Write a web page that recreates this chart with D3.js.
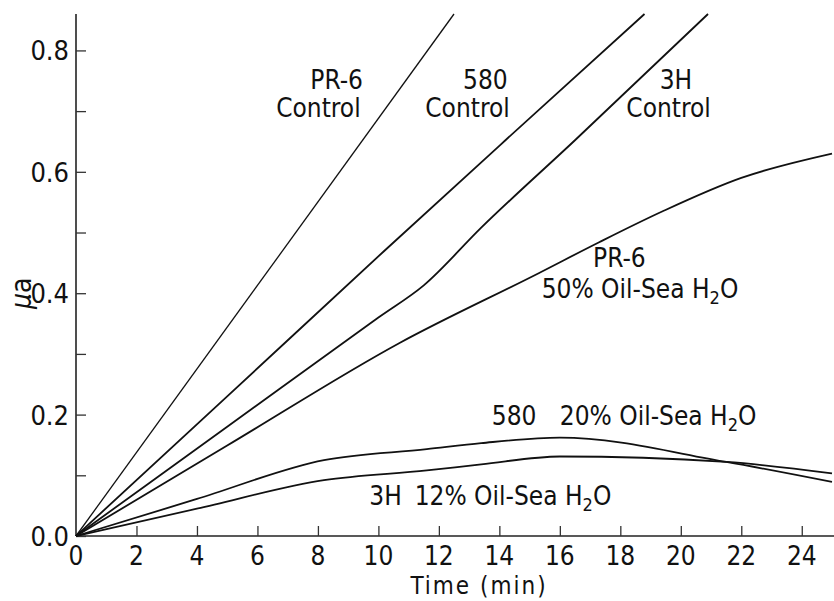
<!DOCTYPE html>
<html>
<head>
<meta charset="utf-8">
<script src="https://cdn.jsdelivr.net/npm/d3@7/dist/d3.min.js"></script>
<style>
  body { margin: 0; background: #fff; }
  svg text { font-family: "DejaVu Sans Condensed", "Liberation Sans Narrow", "Liberation Sans", sans-serif; fill: #111; }
</style>
</head>
<body>
<svg width="834" height="601"></svg>
<script>
// series: [time (min), current (µa)]
var pr6Control = [[0, 0], [12.5, 0.86]];
var c580Control = [[0, 0], [5, 0.23], [10.2, 0.47], [14.2, 0.652], [18.8, 0.86]];
var h3Control = [[0, 0], [5, 0.18], [10, 0.36], [11.5, 0.413], [13.4, 0.508], [16.5, 0.652], [20.9, 0.86]];
var pr6Oil50 = [[0, 0], [5, 0.149], [10.7, 0.318], [15.3, 0.433], [17.3, 0.484], [19.4, 0.535], [22, 0.59], [25, 0.63]];
var c580Oil20 = [[0, 0], [4, 0.061], [8.2, 0.125], [11.6, 0.143], [13.4, 0.153], [16, 0.162], [21.5, 0.122], [25, 0.089]];
var h3Oil12 = [[0, 0], [4, 0.045], [8.2, 0.092], [11.6, 0.108], [13.4, 0.118], [16, 0.131], [21.5, 0.122], [25, 0.103]];

var xTicks = [2, 4, 6, 8, 10, 12, 14, 16, 18, 20, 22, 24];
var yTicks = [0, 0.1, 0.2, 0.3, 0.4, 0.5, 0.6, 0.7, 0.8];
var yLabelled = [0, 0.2, 0.4, 0.6, 0.8];

// label anchors in data units (left edge, baseline)
var labels = [
    { t: 7.75, v: 0.737, text: "PR-6" },
    { t: 6.62, v: 0.69, text: "Control" },
    { t: 12.8, v: 0.737, text: "580" },
    { t: 11.55, v: 0.69, text: "Control" },
    { t: 19.3, v: 0.737, text: "3H" },
    { t: 18.2, v: 0.69, text: "Control" },
    { t: 17.1, v: 0.443, text: "PR-6" },
    { t: 15.4, v: 0.392, text: "50% Oil-Sea H", sub: "2", after: "O" },
    { t: 13.75, v: 0.183, text: "580" },
    { t: 16.0, v: 0.183, text: "20% Oil-Sea H", sub: "2", after: "O" },
    { t: 9.7, v: 0.051, text: "3H" },
    { t: 11.2, v: 0.051, text: "12% Oil-Sea H", sub: "2", after: "O" }
];

var svg = d3.select("svg");
var x = d3.scaleLinear().domain([0, 25]).range([76, 832]);
var y = d3.scaleLinear().domain([0, 0.86]).range([536, 14]);

var line = d3.line()
    .x(function(d) { return x(d[0]); })
    .y(function(d) { return y(d[1]); })
    .curve(d3.curveMonotoneX);

// axes: ticks point inward
svg.append("g")
    .attr("transform", "translate(0,536)")
    .call(d3.axisTop(x).tickValues(xTicks).tickSize(10).tickFormat(""))
    .call(function(g) {
        g.select(".domain").attr("d", "M" + x(0) + ",0H834");
    });

svg.append("g")
    .attr("transform", "translate(76,0)")
    .call(d3.axisRight(y).tickValues(yTicks).tickSize(10).tickFormat(""))
    .call(function(g) {
        g.select(".domain").attr("d", "M0," + y(0.86) + "V" + y(0));
    });

svg.selectAll(".domain").attr("stroke", "#222").attr("stroke-width", 1.6);
svg.selectAll(".tick line").attr("stroke", "#333").attr("stroke-width", 1.3);

// tick labels
svg.append("g").selectAll("text")
    .data([0].concat(xTicks))
    .enter().append("text")
    .attr("x", function(d) { return x(d); })
    .attr("y", 565)
    .attr("text-anchor", "middle")
    .attr("font-size", 26)
    .text(function(d) { return d; });

svg.append("g").selectAll("text")
    .data(yLabelled)
    .enter().append("text")
    .attr("x", 69)
    .attr("y", function(d) { return y(d) + 10; })
    .attr("text-anchor", "end")
    .attr("font-size", 27)
    .text(function(d) { return d.toFixed(1); });

svg.append("text")
    .attr("x", 479)
    .attr("y", 594)
    .attr("text-anchor", "middle")
    .attr("font-size", 24)
    .attr("letter-spacing", 2)
    .text("Time (min)");

svg.append("text")
    .attr("transform", "translate(31," + y(0.4) + ") rotate(-90)")
    .attr("text-anchor", "middle")
    .attr("font-size", 28)
    .html('<tspan font-style="italic">μ</tspan>a');

// curves
var series = [pr6Control, c580Control, h3Control, pr6Oil50, c580Oil20, h3Oil12];
svg.append("g").selectAll("path")
    .data(series)
    .enter().append("path")
    .attr("d", line)
    .attr("fill", "none")
    .attr("stroke", "#111")
    .attr("stroke-width", function(d, i) { return i == 0 ? 1.3 : 1.8; });

// annotations
var lab = svg.append("g").selectAll("text")
    .data(labels)
    .enter().append("text")
    .attr("x", function(d) { return x(d.t); })
    .attr("y", function(d) { return y(d.v); })
    .attr("font-size", 26);

lab.append("tspan").text(function(d) { return d.text; });
lab.filter(function(d) { return d.sub; })
    .append("tspan").attr("dy", 6).attr("font-size", 18).text(function(d) { return d.sub; });
lab.filter(function(d) { return d.after; })
    .append("tspan").attr("dy", -6).text(function(d) { return d.after; });
</script>
</body>
</html>
